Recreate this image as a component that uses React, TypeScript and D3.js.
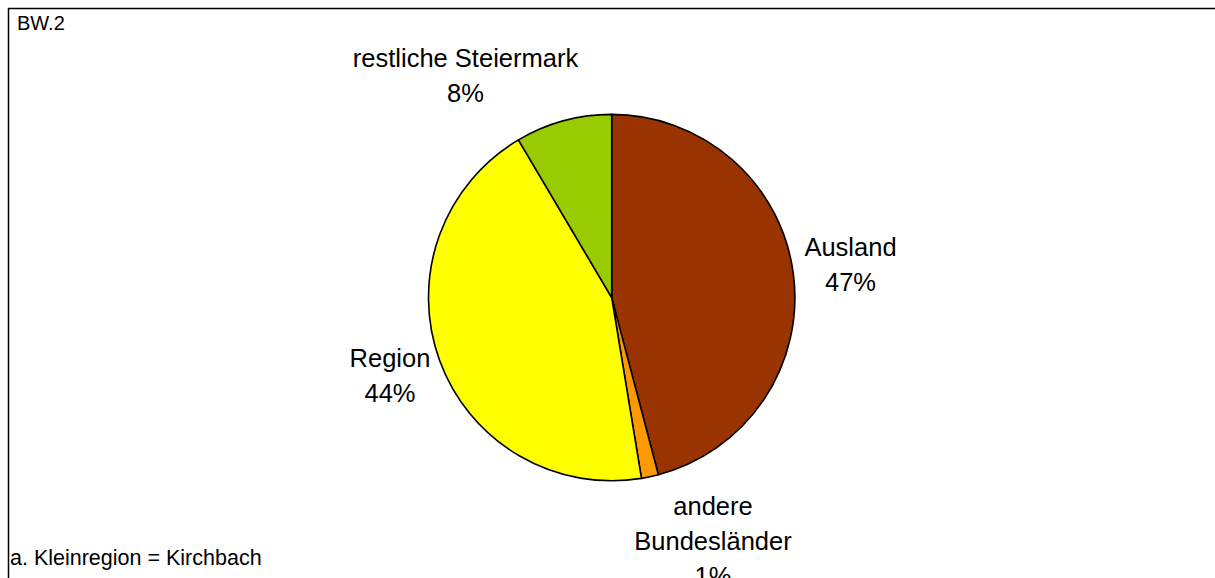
import React from "react";
import * as d3 from "d3";

const categories = ["Ausland", "andere Bundesländer", "Region", "restliche Steiermark"];
const values = [45.9, 1.5, 44.1, 8.5];
const percentLabels = ["47%", "1%", "44%", "8%"];
const colors = ["#993300", "#FF9900", "#FFFF00", "#99CC00"];
const labelLines = [["Ausland"], ["andere", "Bundesländer"], ["Region"], ["restliche", "Steiermark"]];
// label anchor (center x, first baseline y)
const labelPos: [number, number][] = [
  [850.5, 256],
  [713, 515],
  [390, 367],
  [465.5, 66.5],
];

const W = 1215;
const H = 578;
const cx = 611.7;
const cy = 297.6;
const R = 183.2;

export default function App() {
  const pie = d3.pie<number>().sort(null).value((d) => d)(values);
  const arc = d3.arc<d3.PieArcDatum<number>>().innerRadius(0).outerRadius(R);
  const font = "'Liberation Sans', Arial, sans-serif";
  return (
    <svg width={W} height={H} style={{ position: "absolute", left: 0, top: 0 }} fontFamily={font}>
      <rect x={0} y={0} width={W} height={H} fill="#fff" />
      <rect x={8.5} y={8.5} width={W + 20} height={H + 20} fill="none" stroke="#000" strokeWidth={1.5} />
      <text x={17} y={30} fontSize={20}>BW.2</text>
      <g transform={`translate(${cx},${cy})`}>
        {pie.map((p, i) => (
          <path key={categories[i]} d={arc(p) || ""} fill={colors[i]} stroke="#000" strokeWidth={1.6} strokeLinejoin="round" />
        ))}
      </g>
      {labelLines.map((lines, i) => {
        const [x, y] = labelPos[i];
        const all = i === 3 ? [lines.join(" "), percentLabels[i]] : [...lines, percentLabels[i]];
        return (
          <text key={categories[i]} x={x} y={y} fontSize={25.5} textAnchor="middle">
            {all.map((t, j) => (
              <tspan key={j} x={x} y={y + j * 35}>{t}</tspan>
            ))}
          </text>
        );
      })}
      <text x={10} y={565} fontSize={21.5}>a. Kleinregion = Kirchbach</text>
    </svg>
  );
}
